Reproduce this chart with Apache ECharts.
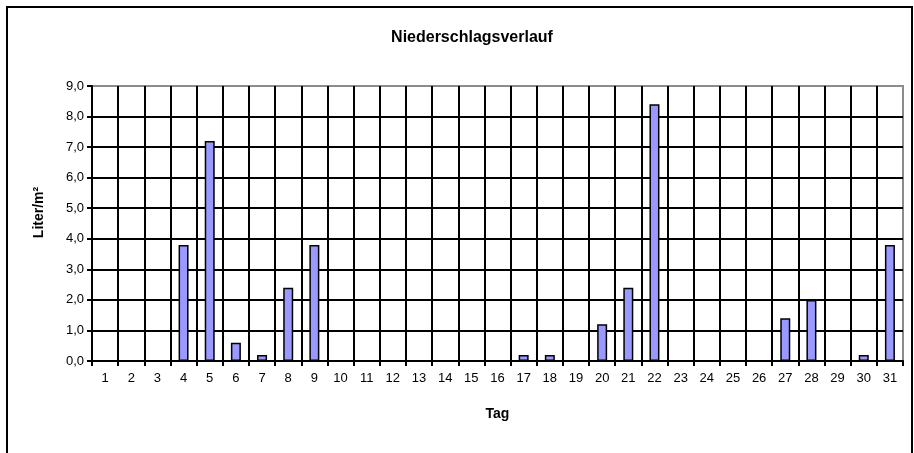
<!DOCTYPE html>
<html>
<head>
<meta charset="utf-8">
<script src="https://cdn.jsdelivr.net/npm/echarts@6/dist/echarts.min.js"></script>
<style>
  html, body { margin: 0; padding: 0; background: #fff; }
  #chart { width: 914px; height: 453px; }
</style>
</head>
<body>
<div id="chart"></div>
<script>
// Tage des Monats
var tage = ['1','2','3','4','5','6','7','8','9','10','11','12','13','14','15','16',
            '17','18','19','20','21','22','23','24','25','26','27','28','29','30','31'];
// Niederschlag in Liter/m²
var niederschlag = [0, 0, 0, 3.8, 7.2, 0.6, 0.2, 2.4, 3.8, 0, 0, 0, 0, 0, 0, 0,
                    0.2, 0.2, 0, 1.2, 2.4, 8.4, 0, 0, 0, 0, 1.4, 2.0, 0, 0.2, 3.8];
var yMin = 0, yMax = 9, yStep = 1;

var chartView = echarts.init(document.getElementById('chart'));
chartView.setOption({
    backgroundColor: '#fff',
    animation: false,
    textStyle: { fontFamily: 'Liberation Sans, Arial, sans-serif' },
    title: {
        text: 'Niederschlagsverlauf',
        left: 467,
        top: 25,
        textAlign: 'center',
        textStyle: { fontSize: 16, fontWeight: 'bold', color: '#000' }
    },
    graphic: [{
        type: 'rect',
        shape: { x: 7, y: 7, width: 905, height: 460 },
        style: { fill: 'none', stroke: '#000', lineWidth: 2 },
        z: -1
    }],
    grid: {
        left: 92,
        right: 11,
        top: 86,
        bottom: 92,
        show: true,
        borderColor: '#8c8c8c',
        borderWidth: 2,
        backgroundColor: 'transparent'
    },
    xAxis: {
        type: 'category',
        data: tage,
        name: 'Tag',
        nameLocation: 'middle',
        nameGap: 46,
        nameTextStyle: { fontSize: 14, fontWeight: 'bold', color: '#000' },
        axisLine: { lineStyle: { color: '#000', width: 2 } },
        axisTick: { show: true, interval: 0, length: 5, lineStyle: { color: '#000', width: 2 } },
        axisLabel: { interval: 0, color: '#000', fontSize: 13, margin: 11 },
        splitLine: { show: true, interval: 0, showMinLine: false, showMaxLine: false,
                     lineStyle: { color: '#000', width: 2 } }
    },
    yAxis: {
        type: 'value',
        min: yMin,
        max: yMax,
        interval: yStep,
        name: 'Liter/m²',
        nameLocation: 'middle',
        nameGap: 46,
        nameRotate: 90,
        nameTextStyle: { fontSize: 14, fontWeight: 'bold', color: '#000', padding: [0, 0, 0, 22] },
        axisLine: { show: true, lineStyle: { color: '#000', width: 2 } },
        axisTick: { show: true, length: 5, lineStyle: { color: '#000', width: 2 } },
        axisLabel: {
            color: '#000', fontSize: 13, margin: 8,
            formatter: function (v) { return v.toFixed(1).replace('.', ','); }
        },
        splitLine: { show: true, showMinLine: false, showMaxLine: false,
                     lineStyle: { color: '#000', width: 2 } }
    },
    series: [{
        type: 'bar',
        data: niederschlag,
        barWidth: 10,
        itemStyle: { color: '#9999ff', borderColor: '#000', borderWidth: 1.5 }
    }]
});
window.addEventListener('resize', function () {
    chartView.resize();
});
</script>
</body>
</html>
